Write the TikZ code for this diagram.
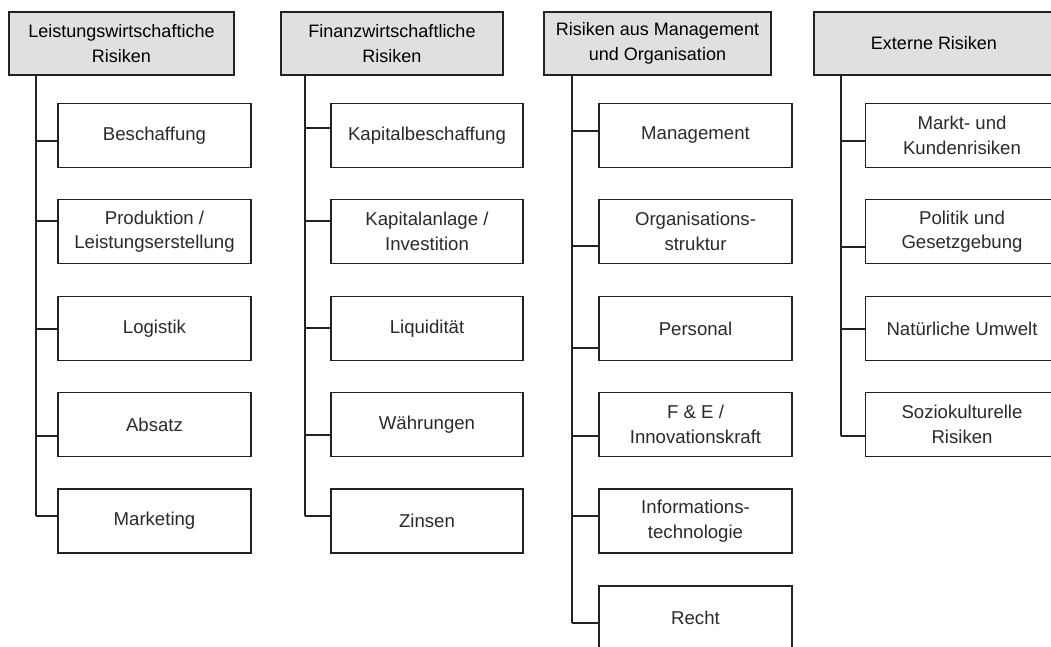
\documentclass[tikz,border=0pt]{standalone}
\usepackage{fontspec}
\setmainfont{Liberation Sans}
\definecolor{linecol}{HTML}{222222}
\definecolor{headfill}{HTML}{E0E0E0}
\definecolor{textcol}{HTML}{2A2A2A}
\begin{document}
\begin{tikzpicture}[x=1pt,y=-1pt,
  headbox/.style={draw=linecol, fill=headfill, line width=1.3pt, inner sep=0pt,
    minimum height=63pt, align=center, text=black,
    font=\fontsize{18}{24.5}\selectfont},
  itembox/.style={draw=linecol, fill=white, line width=1.3pt, inner sep=0pt,
    minimum width=193pt, minimum height=64pt, align=center, text=textcol,
    font=\fontsize{18.6}{24.5}\selectfont},
  link/.style={draw=linecol, line width=1.3pt}]
\useasboundingbox (0,0) rectangle (1051,646);
\clip (0,0) rectangle (1051,646);

% column heads
\node[headbox, minimum width=225pt] (h1) at (121.5,43.5) {Leistungswirtschaftiche\\Risiken};
\node[headbox, minimum width=222pt] (h2) at (392,43.5) {Finanzwirtschaftliche\\Risiken};
\node[headbox, minimum width=227pt] (h3) at (657.5,43.5) {Risiken aus Management\\und Organisation};
\node[headbox, minimum width=240pt] (h4) at (934,43.5) {Externe Risiken};

% column 1
\foreach \n/\y/\c/\t in {1/135.5/141/Beschaffung,
    2/231.5/221/{Produktion /\\Leistungserstellung},
    3/328.5/329/Logistik,
    4/424.5/436/Absatz,
    5/521/516/Marketing}{
  \node[itembox] (b1\n) at (154.5,\y) {\t};
  \coordinate (j1\n) at (36,\c);
  \draw[link] (j1\n) -- (j1\n -| b1\n.west);
}
\draw[link] (h1.south -| j11) -- (j15);

% column 2
\foreach \n/\y/\c/\t in {1/135.5/128/Kapitalbeschaffung,
    2/231.5/221/{Kapitalanlage /\\Investition},
    3/328.5/328/Liquidität,
    4/424.5/435/Währungen,
    5/521/516/Zinsen}{
  \node[itembox, minimum width=192pt] (b2\n) at (427,\y) {\t};
  \coordinate (j2\n) at (305,\c);
  \draw[link] (j2\n) -- (j2\n -| b2\n.west);
}
\draw[link] (h2.south -| j21) -- (j25);

% column 3
\foreach \n/\y/\c/\t in {1/135.5/131/Management,
    2/231.5/246/{Organisations-\\struktur},
    3/328.5/348/Personal,
    4/424.5/436/{F \& E /\\Innovationskraft},
    5/521/516/{Informations-\\technologie},
    6/618/623/Recht}{
  \node[itembox] (b3\n) at (695.5,\y) {\t};
  \coordinate (j3\n) at (572,\c);
  \draw[link] (j3\n) -- (j3\n -| b3\n.west);
}
\draw[link] (h3.south -| j31) -- (j36);

% column 4
\foreach \n/\y/\c/\t in {1/135.5/141/{Markt- und\\Kundenrisiken},
    2/231.5/247/{Politik und\\Gesetzgebung},
    3/328.5/329/Natürliche Umwelt,
    4/424.5/436/{Soziokulturelle\\Risiken}}{
  \node[itembox] (b4\n) at (962,\y) {\t};
  \coordinate (j4\n) at (841,\c);
  \draw[link] (j4\n) -- (j4\n -| b4\n.west);
}
\draw[link] (h4.south -| j41) -- (j44);
\end{tikzpicture}
\end{document}
